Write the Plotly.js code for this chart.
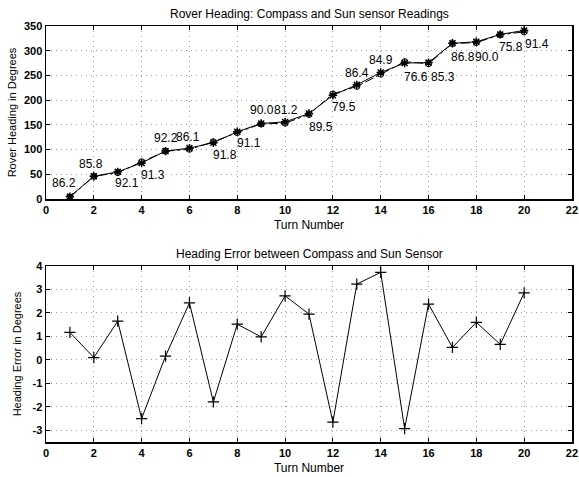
<!DOCTYPE html>
<html><head><meta charset="utf-8">
<script src="https://cdn.plot.ly/plotly-3.0.1.min.js"></script>
<style>html,body{margin:0;padding:0;background:#fff}#c{width:579px;height:477px}</style>
</head><body><div id="c"></div>
<script>
const turns = [1,2,3,4,5,6,7,8,9,10,11,12,13,14,15,16,17,18,19,20];
const compassHeading = [5,46,55,73,97,103,114,136,153,156,173,210,231,256,275,276,315,318,333,341];
const sunHeading = [3.8,45.9,53.4,75.5,96.8,100.6,115.8,134.5,152.0,153.3,171.1,212.7,227.8,252.3,277.9,273.6,314.5,316.4,332.3,338.1];
const headingError = [1.17,0.10,1.65,-2.5,0.16,2.43,-1.79,1.52,0.98,2.73,1.95,-2.65,3.23,3.73,-2.93,2.38,0.53,1.60,0.66,2.86];
const pointLabels = ["86.2","85.8","92.1","91.3","92.2","86.1","91.8","91.1","90.0","81.2","89.5","79.5","86.4","84.9","76.6","85.3","86.8","90.0","75.8","91.4"];
const labelX = [0.75,1.87,3.4,4.48,5.02,5.94,7.47,8.51,9.05,10.05,11.5,12.45,13.0,14.0,15.48,16.6,17.43,18.43,19.43,20.55];
const labelY = [32,71,32,49,123,125,89,113,180,180,146,186,255,281,247,247,287,287,308,314];
const xTicks = [0,2,4,6,8,10,12,14,16,18,20,22];
const yTicksTop = [0,50,100,150,200,250,300,350];
const yTicksBottom = [-3,-2,-1,0,1,2,3,4];

const fam = '"Liberation Sans", Arial, sans-serif';
const traces = [
  {x:turns, y:sunHeading, xaxis:'x', yaxis:'y', mode:'lines+markers',
   line:{color:'#000', width:1, dash:'dashdot'}, marker:{symbol:'circle-open', size:6, color:'#000', line:{width:1}}},
  {x:turns, y:compassHeading, xaxis:'x', yaxis:'y', mode:'lines+markers',
   line:{color:'#000', width:1}, marker:{symbol:'asterisk-open', size:7, color:'#000', line:{width:1.5, color:'#000'}}},
  {x:turns, y:headingError, xaxis:'x2', yaxis:'y2', mode:'lines+markers',
   line:{color:'#000', width:1}, marker:{symbol:'cross-thin-open', size:8, color:'#000', line:{width:1.2, color:'#000'}}}
];
const annotations = pointLabels.map((t,i)=>({x:labelX[i], y:labelY[i], xref:'x', yref:'y', text:t, showarrow:false, font:{family:fam, size:12, color:'#000'}}));
annotations.push({text:'Rover Heading: Compass and Sun sensor Readings', xref:'paper', yref:'paper', x:0.5, y:1, yanchor:'bottom', yshift:3, showarrow:false, font:{family:fam, size:12, color:'#000'}});
annotations.push({text:'Heading Error between Compass and Sun Sensor', xref:'paper', yref:'paper', x:0.5, y:0.423, yanchor:'bottom', yshift:3, showarrow:false, font:{family:fam, size:12, color:'#000'}});

const ax = {showline:true, linecolor:'#000', linewidth:1.5, mirror:'ticks', ticks:'inside', ticklen:4, tickcolor:'#000',
  showgrid:true, gridcolor:'#999', griddash:'1px,4px', gridwidth:1, zeroline:false, ticklabeloverflow:'allow',
  tickfont:{family:fam, size:11, color:'#000', weight:'bold'}, tickmode:'array'};
const layout = {
  width:579, height:477, paper_bgcolor:'#fff', plot_bgcolor:'#fff', showlegend:false, font:{family:fam, size:11, color:'#000'},
  margin:{l:46, r:7, t:26, b:35},
  xaxis:Object.assign({}, ax, {range:[0,22.001], tickvals:xTicks, ticktext:xTicks.map(String), domain:[0,1], anchor:'y',
    title:{text:'Turn Number', font:{family:fam, size:12}, standoff:6}}),
  yaxis:Object.assign({}, ax, {range:[0,350], tickvals:yTicksTop, ticktext:yTicksTop.map(String), domain:[0.584,1], anchor:'x',
    title:{text:'Rover Heading in Degrees', font:{family:fam, size:11}, standoff:5}}),
  xaxis2:Object.assign({}, ax, {range:[0,22.001], tickvals:xTicks, ticktext:xTicks.map(String), domain:[0,1], anchor:'y2',
    title:{text:'Turn Number', font:{family:fam, size:12}, standoff:6}}),
  yaxis2:Object.assign({}, ax, {range:[-3.5,4], tickvals:yTicksBottom, ticktext:yTicksBottom.map(String), domain:[0,0.423], anchor:'x2',
    title:{text:'Heading Error in Degrees', font:{family:fam, size:11}, standoff:8}}),
  annotations:annotations
};
Plotly.newPlot('c', traces, layout, {displayModeBar:false, staticPlot:true});
</script></body></html>
